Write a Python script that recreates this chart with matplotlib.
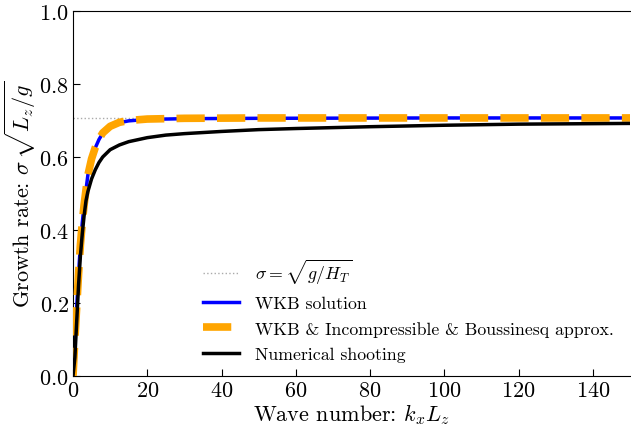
import matplotlib
matplotlib.use("Agg")
import matplotlib.pyplot as plt

plt.rcParams['font.family'] = 'serif'
plt.rcParams['font.serif'] = ['cmr10']
plt.rcParams['mathtext.fontset'] = 'cm'
plt.rcParams['axes.formatter.use_mathtext'] = True

# asymptote sigma = sqrt(g/H_T) in units of sqrt(g/L_z)
sigma_limit = 0.7071

# WKB solution
k_wkb = [0, 0.5, 1.0, 1.5, 2.0, 2.5, 3.0, 3.5, 4.0, 5, 6, 7, 8, 10, 12.5, 15, 20, 30, 50, 100, 150]
sigma_wkb = [0, 0.10, 0.19, 0.28, 0.36, 0.42, 0.47, 0.51, 0.55, 0.595, 0.625, 0.648, 0.665, 0.683,
             0.694, 0.699, 0.703, 0.705, 0.706, 0.707, 0.707]

# WKB & incompressible & Boussinesq approximation
k_approx = [0, 0.5, 1.0, 1.5, 2.0, 2.5, 3.0, 3.5, 4.0, 5, 6, 7, 8, 10, 12.5, 15, 20, 30, 50, 100, 150]
sigma_approx = [0, 0.10, 0.19, 0.28, 0.36, 0.42, 0.47, 0.51, 0.55, 0.595, 0.626, 0.649, 0.666, 0.684,
                0.695, 0.700, 0.704, 0.706, 0.707, 0.707, 0.707]

# numerical shooting
k_shoot = [0, 0.5, 1.0, 1.5, 2.0, 2.5, 3.0, 3.5, 4.0, 5, 6, 7, 8, 10, 12.5, 15, 20, 25, 30, 40, 50,
           60, 80, 100, 120, 150]
sigma_shoot = [0, 0.05, 0.15, 0.25, 0.33, 0.39, 0.44, 0.48, 0.505, 0.54, 0.565, 0.585, 0.60, 0.62,
               0.633, 0.642, 0.653, 0.66, 0.664, 0.670, 0.675, 0.678, 0.683, 0.687, 0.690, 0.692]

fig = plt.figure(figsize=(6.31, 4.31), dpi=100)
ax = fig.add_axes([73 / 631, 54 / 431, 557 / 631, 365 / 431])

ax.axhline(sigma_limit, color='#aaaaaa', linestyle=':', linewidth=1.0, zorder=1,
           label=r'$\sigma=\sqrt{g/H_T}$')
ax.plot(k_wkb, sigma_wkb, color='blue', linewidth=2.5, zorder=2, label='WKB solution')
ax.plot(k_approx, sigma_approx, color='orange', linestyle='--', linewidth=5.5, zorder=3,
        label='WKB & Incompressible & Boussinesq approx.')
ax.plot(k_shoot, sigma_shoot, color='black', linewidth=2.5, zorder=4, label='Numerical shooting')

ax.set_xlim(0, 150)
ax.set_ylim(0, 1.0)
ax.set_xticks(range(0, 141, 20))
ax.set_yticks([0, 0.2, 0.4, 0.6, 0.8, 1.0])
ax.tick_params(direction='in', length=5, labelsize=16, pad=3)
ax.spines['right'].set_visible(False)

ax.set_xlabel(r'Wave number: $k_xL_z$', fontsize=16, labelpad=1)
ax.set_ylabel(r'Growth rate: $\sigma\,\sqrt{L_z/g}$', fontsize=16, labelpad=1)

ax.legend(loc='lower left', bbox_to_anchor=(0.205, -0.005), frameon=False, fontsize=12.8,
          handlelength=2.0, handletextpad=0.9, labelspacing=0.55)

fig.savefig('out.png', dpi=100)
